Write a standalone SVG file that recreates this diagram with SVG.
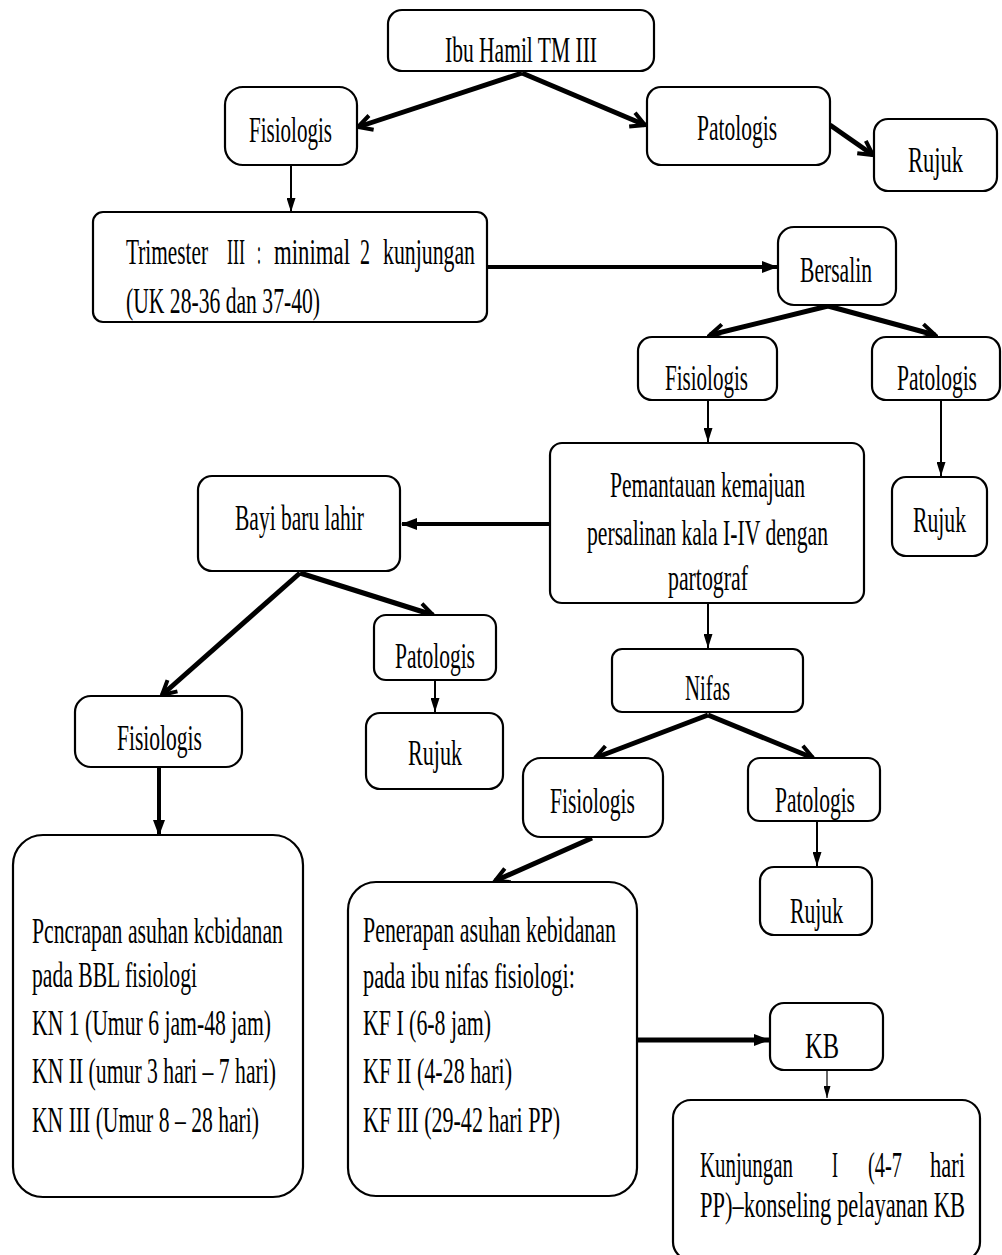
<svg xmlns="http://www.w3.org/2000/svg" width="1002" height="1255" viewBox="0 0 1002 1255">
<style>
.box{fill:#fff;stroke:#000;stroke-width:2.2}
.t{font-family:"Liberation Serif","Times New Roman",serif;font-size:36px;fill:#000}
.tm{font-family:"Liberation Serif","Times New Roman",serif;font-size:35px;fill:#000}
.thick{stroke:#000;stroke-width:5;fill:none}
.mid{stroke:#000;stroke-width:4;fill:none}
.thin{stroke:#000;stroke-width:2;fill:none}
.hair{stroke:#000;stroke-width:1.2;fill:none}
</style>
<defs>
<marker id="open" markerUnits="userSpaceOnUse" viewBox="0 0 20 20" markerWidth="20" markerHeight="20" refX="17" refY="10" orient="auto">
<path d="M3,2.5 L17,10 L3,17.5" fill="none" stroke="#000" stroke-width="4"/>
</marker>
<marker id="fill" markerUnits="userSpaceOnUse" viewBox="0 0 16 12" markerWidth="16" markerHeight="12" refX="15" refY="6" orient="auto">
<path d="M0,0 L16,6 L0,12 z" fill="#000"/>
</marker>
<marker id="small" markerUnits="userSpaceOnUse" viewBox="0 0 14 9" markerWidth="14" markerHeight="9" refX="14" refY="4.5" orient="auto">
<path d="M0,0 L14,4.5 L0,9 z" fill="#000"/>
</marker>
<marker id="tiny" markerUnits="userSpaceOnUse" viewBox="0 0 12 7" markerWidth="12" markerHeight="7" refX="12" refY="3.5" orient="auto">
<path d="M0,0 L12,3.5 L0,7 z" fill="#000"/>
</marker>
</defs>
<rect x="0" y="0" width="1002" height="1255" fill="#fff"/>

<g id="connectors">
<line class="thick" x1="522" y1="73" x2="358" y2="127" marker-end="url(#open)"/>
<line class="thick" x1="522" y1="73" x2="645" y2="125" marker-end="url(#open)"/>
<line class="thick" x1="830" y1="125" x2="873" y2="155" marker-end="url(#open)"/>
<line class="thin" x1="291" y1="165" x2="291" y2="212" marker-end="url(#small)"/>
<line class="mid" x1="487" y1="267" x2="777" y2="267" marker-end="url(#fill)"/>
<line class="thick" x1="828" y1="306" x2="710" y2="335" marker-end="url(#open)"/>
<line class="thick" x1="828" y1="306" x2="935" y2="335" marker-end="url(#open)"/>
<line class="thin" x1="708" y1="400" x2="708" y2="442" marker-end="url(#small)"/>
<line class="thin" x1="941" y1="400" x2="941" y2="476" marker-end="url(#small)"/>
<line class="mid" x1="550" y1="524" x2="402" y2="524" marker-end="url(#fill)"/>
<line class="thin" x1="708" y1="603" x2="708" y2="648" marker-end="url(#small)"/>
<line class="thick" x1="300" y1="573" x2="162" y2="695" marker-end="url(#open)"/>
<line class="thick" x1="300" y1="573" x2="433" y2="615" marker-end="url(#open)"/>
<line class="thin" x1="435" y1="680" x2="435" y2="712" marker-end="url(#small)"/>
<line class="mid" x1="159" y1="767" x2="159" y2="835" marker-end="url(#fill)"/>
<line class="thick" x1="708" y1="715" x2="595" y2="758" marker-end="url(#open)"/>
<line class="thick" x1="708" y1="715" x2="813" y2="758" marker-end="url(#open)"/>
<line class="thin" x1="817" y1="821" x2="817" y2="866" marker-end="url(#small)"/>
<line class="thick" x1="592" y1="838" x2="495" y2="881" marker-end="url(#open)"/>
<line class="thick" x1="637" y1="1040" x2="769" y2="1040" marker-end="url(#fill)"/>
<line class="hair" x1="827" y1="1070" x2="827" y2="1098" marker-end="url(#tiny)"/>
</g>

<g id="n_ibu">
<rect class="box" x="388" y="10" width="266" height="61" rx="14"/>
<text class="t" transform="scale(0.6,1)" x="741.67" y="62" textLength="253.33" lengthAdjust="spacingAndGlyphs">Ibu Hamil TM III</text>
</g>
<g id="n_fis1">
<rect class="box" x="225" y="87" width="132" height="78" rx="18"/>
<text class="t" transform="scale(0.6,1)" x="415" y="142" textLength="138.33" lengthAdjust="spacingAndGlyphs">Fisiologis</text>
</g>
<g id="n_pat1">
<rect class="box" x="647" y="87" width="183" height="78" rx="14"/>
<text class="t" transform="scale(0.6,1)" x="1161.67" y="140" textLength="133.33" lengthAdjust="spacingAndGlyphs">Patologis</text>
</g>
<g id="n_rujuk1">
<rect class="box" x="874" y="119" width="123" height="72" rx="14"/>
<text class="t" transform="scale(0.6,1)" x="1513.33" y="172" textLength="91.67" lengthAdjust="spacingAndGlyphs">Rujuk</text>
</g>
<g id="n_trim">
<rect class="box" x="93" y="212" width="394" height="110" rx="10"/>
<text class="tm" transform="scale(0.6,1)" x="210" y="264" textLength="136.67" lengthAdjust="spacingAndGlyphs">Trimester</text>
<text class="tm" transform="scale(0.6,1)" x="378.33" y="264" textLength="30" lengthAdjust="spacingAndGlyphs">III</text>
<text class="tm" transform="scale(0.6,1)" x="428.33" y="264" textLength="6.67" lengthAdjust="spacingAndGlyphs">:</text>
<text class="tm" transform="scale(0.6,1)" x="456.67" y="264" textLength="126.67" lengthAdjust="spacingAndGlyphs">minimal</text>
<text class="tm" transform="scale(0.6,1)" x="600" y="264" textLength="16.67" lengthAdjust="spacingAndGlyphs">2</text>
<text class="tm" transform="scale(0.6,1)" x="638.33" y="264" textLength="153.33" lengthAdjust="spacingAndGlyphs">kunjungan</text>
<text class="tm" transform="scale(0.6,1)" x="210" y="313" textLength="323.33" lengthAdjust="spacingAndGlyphs">(UK 28-36 dan 37-40)</text>
</g>
<g id="n_bersalin">
<rect class="box" x="778" y="227" width="118" height="78" rx="16"/>
<text class="t" transform="scale(0.6,1)" x="1333.33" y="282" textLength="120" lengthAdjust="spacingAndGlyphs">Bersalin</text>
</g>
<g id="n_fis2">
<rect class="box" x="638" y="337" width="139" height="63" rx="14"/>
<text class="t" transform="scale(0.6,1)" x="1108.33" y="390" textLength="138.33" lengthAdjust="spacingAndGlyphs">Fisiologis</text>
</g>
<g id="n_pat2">
<rect class="box" x="872" y="337" width="128" height="63" rx="14"/>
<text class="t" transform="scale(0.6,1)" x="1495" y="390" textLength="133.33" lengthAdjust="spacingAndGlyphs">Patologis</text>
</g>
<g id="n_rujuk2">
<rect class="box" x="892" y="477" width="95" height="79" rx="14"/>
<text class="t" transform="scale(0.6,1)" x="1521.67" y="532" textLength="88.33" lengthAdjust="spacingAndGlyphs">Rujuk</text>
</g>
<g id="n_pemantauan">
<rect class="box" x="550" y="443" width="314" height="160" rx="12"/>
<text class="tm" transform="scale(0.6,1)" x="1016.67" y="497" textLength="325" lengthAdjust="spacingAndGlyphs">Pemantauan kemajuan</text>
<text class="tm" transform="scale(0.6,1)" x="978.33" y="545" textLength="401.67" lengthAdjust="spacingAndGlyphs">persalinan kala I-IV dengan</text>
<text class="tm" transform="scale(0.6,1)" x="1113.33" y="590" textLength="133.33" lengthAdjust="spacingAndGlyphs">partograf</text>
</g>
<g id="n_bayi">
<rect class="box" x="198" y="476" width="202" height="95" rx="14"/>
<text class="t" transform="scale(0.6,1)" x="391.67" y="530" textLength="215" lengthAdjust="spacingAndGlyphs">Bayi baru lahir</text>
</g>
<g id="n_fis3">
<rect class="box" x="75" y="696" width="167" height="71" rx="16"/>
<text class="t" transform="scale(0.6,1)" x="195" y="750" textLength="141.67" lengthAdjust="spacingAndGlyphs">Fisiologis</text>
</g>
<g id="n_pat3">
<rect class="box" x="374" y="615" width="122" height="65" rx="12"/>
<text class="t" transform="scale(0.6,1)" x="658.33" y="668" textLength="133.33" lengthAdjust="spacingAndGlyphs">Patologis</text>
</g>
<g id="n_rujuk3">
<rect class="box" x="366" y="713" width="137" height="76" rx="14"/>
<text class="t" transform="scale(0.6,1)" x="680" y="765" textLength="90" lengthAdjust="spacingAndGlyphs">Rujuk</text>
</g>
<g id="n_nifas">
<rect class="box" x="612" y="649" width="191" height="63" rx="10"/>
<text class="t" transform="scale(0.6,1)" x="1141.67" y="700" textLength="75" lengthAdjust="spacingAndGlyphs">Nifas</text>
</g>
<g id="n_fis4">
<rect class="box" x="523" y="758" width="140" height="79" rx="18"/>
<text class="t" transform="scale(0.6,1)" x="916.67" y="813" textLength="141.67" lengthAdjust="spacingAndGlyphs">Fisiologis</text>
</g>
<g id="n_pat4">
<rect class="box" x="748" y="758" width="132" height="63" rx="12"/>
<text class="t" transform="scale(0.6,1)" x="1291.67" y="812" textLength="133.33" lengthAdjust="spacingAndGlyphs">Patologis</text>
</g>
<g id="n_rujuk4">
<rect class="box" x="760" y="867" width="112" height="68" rx="14"/>
<text class="t" transform="scale(0.6,1)" x="1316.67" y="923" textLength="88.33" lengthAdjust="spacingAndGlyphs">Rujuk</text>
</g>
<g id="n_pencrapan">
<rect class="box" x="13" y="835" width="290" height="362" rx="30"/>
<text class="tm" transform="scale(0.6,1)" x="53.33" y="943" textLength="418.33" lengthAdjust="spacingAndGlyphs">Pcncrapan asuhan kcbidanan</text>
<text class="tm" transform="scale(0.6,1)" x="53.33" y="987" textLength="275" lengthAdjust="spacingAndGlyphs">pada BBL fisiologi</text>
<text class="tm" transform="scale(0.6,1)" x="53.33" y="1035" textLength="398.33" lengthAdjust="spacingAndGlyphs">KN 1 (Umur 6 jam-48 jam)</text>
<text class="tm" transform="scale(0.6,1)" x="53.33" y="1083" textLength="406.67" lengthAdjust="spacingAndGlyphs">KN II (umur 3 hari – 7 hari)</text>
<text class="tm" transform="scale(0.6,1)" x="53.33" y="1132" textLength="378.33" lengthAdjust="spacingAndGlyphs">KN III (Umur 8 – 28 hari)</text>
</g>
<g id="n_penerapan">
<rect class="box" x="348" y="882" width="289" height="314" rx="28"/>
<text class="tm" transform="scale(0.6,1)" x="605" y="942" textLength="421.67" lengthAdjust="spacingAndGlyphs">Penerapan asuhan kebidanan</text>
<text class="tm" transform="scale(0.6,1)" x="605" y="988" textLength="353.33" lengthAdjust="spacingAndGlyphs">pada ibu nifas  fisiologi:</text>
<text class="tm" transform="scale(0.6,1)" x="605" y="1035" textLength="213.33" lengthAdjust="spacingAndGlyphs">KF I (6-8 jam)</text>
<text class="tm" transform="scale(0.6,1)" x="605" y="1083" textLength="248.33" lengthAdjust="spacingAndGlyphs">KF II (4-28 hari)</text>
<text class="tm" transform="scale(0.6,1)" x="605" y="1132" textLength="328.33" lengthAdjust="spacingAndGlyphs">KF III (29-42 hari PP)</text>
</g>
<g id="n_kb">
<rect class="box" x="770" y="1003" width="113" height="67" rx="14"/>
<text class="t" transform="scale(0.6,1)" x="1341.67" y="1058" textLength="56.67" lengthAdjust="spacingAndGlyphs">KB</text>
</g>
<g id="n_kunjungan">
<rect class="box" x="673" y="1100" width="307" height="160" rx="18"/>
<text class="tm" transform="scale(0.6,1)" x="1166.67" y="1177" textLength="155" lengthAdjust="spacingAndGlyphs">Kunjungan</text>
<text class="tm" transform="scale(0.6,1)" x="1386.67" y="1177" textLength="10" lengthAdjust="spacingAndGlyphs">I</text>
<text class="tm" transform="scale(0.6,1)" x="1446.67" y="1177" textLength="56.67" lengthAdjust="spacingAndGlyphs">(4-7</text>
<text class="tm" transform="scale(0.6,1)" x="1550" y="1177" textLength="58.33" lengthAdjust="spacingAndGlyphs">hari</text>
<text class="tm" transform="scale(0.6,1)" x="1166.67" y="1217" textLength="441.67" lengthAdjust="spacingAndGlyphs">PP)–konseling pelayanan KB</text>
</g>
</svg>
